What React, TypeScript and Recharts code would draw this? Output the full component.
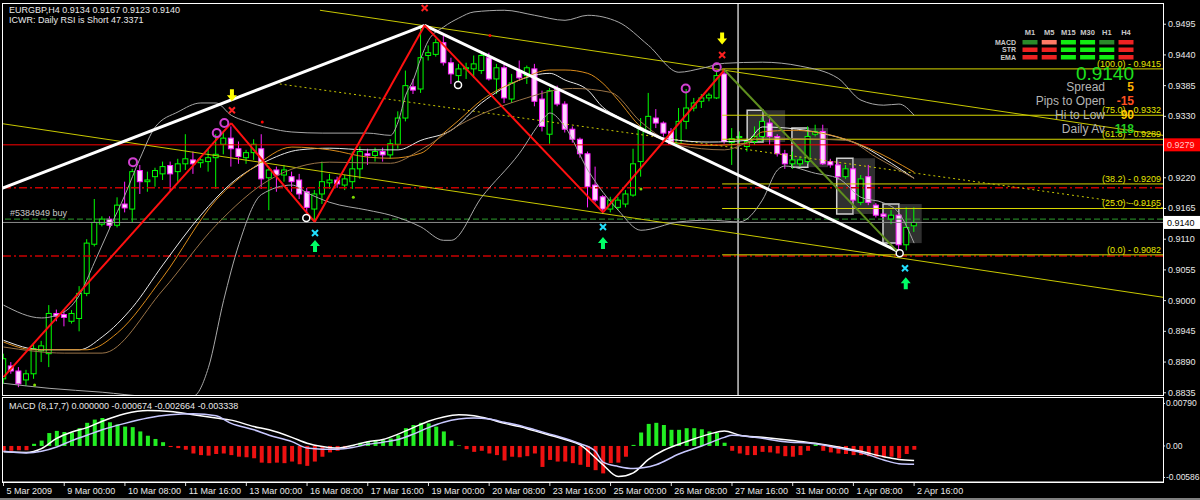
import React from "react";
import {
  ComposedChart,
  Bar,
  Line,
  XAxis,
  YAxis,
  ReferenceLine,
  ReferenceArea,
  ReferenceDot,
  Cell,
} from "recharts";

const FONT = '"Liberation Sans", Arial, sans-serif';

// time axis: one label every 8 H4 bars
const dateLabels = [
  "5 Mar 2009", "9 Mar 00:00", "10 Mar 08:00", "11 Mar 16:00", "13 Mar 00:00", "16 Mar 08:00",
  "17 Mar 16:00", "19 Mar 00:00", "20 Mar 08:00", "23 Mar 16:00", "25 Mar 00:00", "26 Mar 08:00",
  "27 Mar 16:00", "31 Mar 00:00", "1 Apr 08:00", "2 Apr 16:00",
];
const dateTicks = dateLabels.map((_, k) => k * 8);

const priceTicks = [0.8835, 0.889, 0.8945, 0.9, 0.9055, 0.911, 0.9165, 0.922, 0.933, 0.9385, 0.944, 0.9495];
const macdTicks = [-0.00586, 0, 0.0079];
const macdTickText = ["-0.00586", "0.00", "0.00790"];

// EURGBP H4 candles, 5 Mar 16:00 .. 2 Apr 16:00
const open = [
  0.8860, 0.8883, 0.8874, 0.8858, 0.8869, 0.8910, 0.8905, 0.8977, 0.8975, 0.8963,
  0.8968, 0.9013, 0.9101, 0.9137, 0.9146, 0.9135, 0.9173, 0.9164, 0.9233, 0.9213,
  0.9222, 0.9227, 0.9242, 0.9231, 0.9245, 0.9252, 0.9247, 0.9249, 0.9256, 0.9280,
  0.9291, 0.9272, 0.9256, 0.9265, 0.9272, 0.9220, 0.9234, 0.9225, 0.9222, 0.9216,
  0.9195, 0.9164, 0.9191, 0.9211, 0.9216, 0.9207, 0.9213, 0.9236, 0.9263, 0.9260,
  0.9267, 0.9261, 0.9280, 0.9327, 0.9383, 0.9379, 0.9439, 0.9441, 0.9462, 0.9426,
  0.9403, 0.9415, 0.9415, 0.9412, 0.9435, 0.9397, 0.9417, 0.9361, 0.9412, 0.9403,
  0.9415, 0.9361, 0.9298, 0.9379, 0.9352, 0.9307, 0.9289, 0.9263, 0.9207, 0.9186,
  0.9164, 0.9167, 0.9173, 0.9189, 0.9249, 0.9303, 0.9327, 0.9318, 0.9303, 0.9281,
  0.9321, 0.9345, 0.9357, 0.9363, 0.9363, 0.9406, 0.9283, 0.9292, 0.9276, 0.9285,
  0.9294, 0.9318, 0.9294, 0.9263, 0.9245, 0.9245, 0.9249, 0.9298, 0.9303, 0.9249,
  0.9243, 0.9222, 0.9236, 0.9176, 0.9222, 0.9171, 0.9155, 0.9146, 0.9153, 0.9100,
  0.9134,
];
const high = [
  0.8905, 0.8890, 0.8881, 0.8876, 0.8923, 0.8928, 0.8992, 0.8984, 0.8983, 0.8983,
  0.9026, 0.9110, 0.9182, 0.9151, 0.9151, 0.9185, 0.9213, 0.9236, 0.9243, 0.9231,
  0.9238, 0.9249, 0.9249, 0.9254, 0.9298, 0.9267, 0.9258, 0.9272, 0.9298, 0.9303,
  0.9312, 0.9285, 0.9270, 0.9289, 0.9298, 0.9240, 0.9240, 0.9243, 0.9231, 0.9227,
  0.9202, 0.9198, 0.9249, 0.9227, 0.9222, 0.9225, 0.9267, 0.9276, 0.9272, 0.9274,
  0.9274, 0.9289, 0.9339, 0.9412, 0.9397, 0.9493, 0.9457, 0.9469, 0.9475, 0.9435,
  0.9424, 0.9426, 0.9439, 0.9444, 0.9444, 0.9424, 0.9426, 0.9406, 0.9430, 0.9421,
  0.9424, 0.9376, 0.9381, 0.9385, 0.9357, 0.9312, 0.9292, 0.9267, 0.9240, 0.9189,
  0.9186, 0.9186, 0.9198, 0.9272, 0.9327, 0.9372, 0.9343, 0.9321, 0.9309, 0.9345,
  0.9379, 0.9363, 0.9370, 0.9372, 0.9412, 0.9415, 0.9309, 0.9303, 0.9290, 0.9312,
  0.9328, 0.9328, 0.9298, 0.9270, 0.9267, 0.9258, 0.9312, 0.9315, 0.9315, 0.9254,
  0.9249, 0.9243, 0.9240, 0.9225, 0.9243, 0.9175, 0.9158, 0.9162, 0.9155, 0.9167,
  0.9167,
];
const low = [
  0.8851, 0.8869, 0.8845, 0.8847, 0.8860, 0.8890, 0.8881, 0.8963, 0.8954, 0.8959,
  0.8945, 0.9008, 0.9097, 0.9133, 0.9129, 0.9131, 0.9158, 0.9140, 0.9191, 0.9195,
  0.9204, 0.9216, 0.9195, 0.9213, 0.9234, 0.9227, 0.9238, 0.9231, 0.9200, 0.9262,
  0.9240, 0.9245, 0.9245, 0.9252, 0.9200, 0.9162, 0.9195, 0.9213, 0.9195, 0.9182,
  0.9158, 0.9142, 0.9173, 0.9200, 0.9202, 0.9198, 0.9200, 0.9218, 0.9243, 0.9249,
  0.9249, 0.9254, 0.9272, 0.9321, 0.9370, 0.9372, 0.9430, 0.9437, 0.9421, 0.9388,
  0.9388, 0.9397, 0.9399, 0.9406, 0.9394, 0.9370, 0.9354, 0.9354, 0.9394, 0.9388,
  0.9348, 0.9303, 0.9281, 0.9348, 0.9301, 0.9283, 0.9256, 0.9167, 0.9176, 0.9155,
  0.9158, 0.9162, 0.9167, 0.9186, 0.9222, 0.9298, 0.9309, 0.9294, 0.9279, 0.9279,
  0.9307, 0.9339, 0.9345, 0.9357, 0.9361, 0.9281, 0.9243, 0.9276, 0.9267, 0.9279,
  0.9285, 0.9279, 0.9258, 0.9236, 0.9236, 0.9240, 0.9245, 0.9294, 0.9243, 0.9238,
  0.9216, 0.9218, 0.9176, 0.9171, 0.9171, 0.9149, 0.9147, 0.9137, 0.9082, 0.9090,
  0.9123,
];
const close = [
  0.8896, 0.8874, 0.8851, 0.8869, 0.8914, 0.8919, 0.8977, 0.8972, 0.8970, 0.8977,
  0.9013, 0.9103, 0.9140, 0.9146, 0.9135, 0.9171, 0.9166, 0.9231, 0.9213, 0.9216,
  0.9233, 0.9240, 0.9227, 0.9245, 0.9254, 0.9245, 0.9252, 0.9256, 0.9262, 0.9291,
  0.9272, 0.9258, 0.9265, 0.9280, 0.9218, 0.9234, 0.9225, 0.9234, 0.9213, 0.9191,
  0.9167, 0.9191, 0.9213, 0.9216, 0.9209, 0.9218, 0.9236, 0.9267, 0.9260, 0.9267,
  0.9261, 0.9281, 0.9327, 0.9385, 0.9377, 0.9435, 0.9444, 0.9462, 0.9426, 0.9406,
  0.9415, 0.9417, 0.9424, 0.9439, 0.9397, 0.9417, 0.9363, 0.9390, 0.9399, 0.9417,
  0.9357, 0.9312, 0.9376, 0.9352, 0.9307, 0.9289, 0.9263, 0.9204, 0.9180, 0.9164,
  0.9180, 0.9180, 0.9191, 0.9245, 0.9309, 0.9330, 0.9318, 0.9300, 0.9281, 0.9321,
  0.9345, 0.9354, 0.9363, 0.9368, 0.9403, 0.9285, 0.9290, 0.9294, 0.9285, 0.9294,
  0.9321, 0.9294, 0.9263, 0.9245, 0.9252, 0.9252, 0.9294, 0.9303, 0.9245, 0.9243,
  0.9222, 0.9236, 0.9180, 0.9218, 0.9176, 0.9153, 0.9151, 0.9153, 0.9100, 0.9131,
  0.9140,
];

// MACD (8,17,7) histogram
const macdHist = [
  -0.0009, -0.0009, -0.0008, -0.0008, 0.0004, 0.0010, 0.0024, 0.0028, 0.0026, 0.0025,
  0.0033, 0.0043, 0.0049, 0.0052, 0.0044, 0.0040, 0.0036, 0.0035, 0.0027, 0.0019,
  0.0013, 0.0007, -0.0002, -0.0004, -0.0007, -0.0014, -0.0017, -0.0018, -0.0015, -0.0014,
  -0.0017, -0.0020, -0.0021, -0.0023, -0.0031, -0.0032, -0.0031, -0.0032, -0.0029, -0.0034,
  -0.0037, -0.0029, -0.0020, -0.0012, -0.0009, -0.0004, 0.0002, 0.0006, 0.0008, 0.0010,
  0.0011, 0.0014, 0.0020, 0.0033, 0.0039, 0.0043, 0.0042, 0.0036, 0.0027, 0.0010,
  0.0001, -0.0006, -0.0011, -0.0009, -0.0014, -0.0017, -0.0027, -0.0020, -0.0021, -0.0019,
  -0.0014, -0.0039, -0.0026, -0.0029, -0.0029, -0.0032, -0.0035, -0.0039, -0.0045, -0.0051,
  -0.0032, -0.0031, -0.0020, 0.0002, 0.0025, 0.0041, 0.0043, 0.0039, 0.0030, 0.0030,
  0.0033, 0.0033, 0.0031, 0.0027, 0.0024, 0.0006, -0.0009, -0.0014, -0.0017, -0.0017,
  -0.0011, -0.0012, -0.0014, -0.0019, -0.0020, -0.0017, -0.0009, 0.0003, -0.0009, -0.0012,
  -0.0014, -0.0015, -0.0017, -0.0017, -0.0019, -0.0020, -0.0021, -0.0020, -0.0023, -0.0015,
  -0.0007,
];

type Pt = [number, number];

// MACD lines, read at a few bars
const macdFast: Pt[] = [
  [0, -0.0011], [3, -0.0012], [5, -0.0005], [7, 0.0014], [9, 0.0026], [11, 0.0034], [13, 0.0046],
  [16, 0.006], [19, 0.0066], [22, 0.0064], [25, 0.0058], [28, 0.0052], [30, 0.0048], [33, 0.0036],
  [35, 0.003], [38, 0.0016], [40, 0.0005], [42, -0.0001], [44, -0.0004], [46, 0.0001], [48, 0.0008],
  [50, 0.0012], [52, 0.0022], [54, 0.0034], [56, 0.0046], [58, 0.0054], [60, 0.0058], [62, 0.0056],
  [64, 0.005], [66, 0.0042], [68, 0.0036], [70, 0.0028], [72, 0.002], [74, 0.0012], [76, 0.0002],
  [78, -0.0022], [79, -0.0035], [81, -0.0057], [83, -0.005], [85, -0.0025], [87, -0.0008],
  [90, 0.0008], [93, 0.0022], [95, 0.0028], [97, 0.002], [100, 0.0016], [104, 0.001], [107, 0.0005],
  [110, -0.0002], [113, -0.001], [116, -0.002], [118, -0.0025], [120, -0.0027],
];
const macdSlow: Pt[] = [
  [0, -0.001], [3, -0.0013], [5, -0.001], [7, -0.0002], [9, 0.001], [11, 0.002], [13, 0.003],
  [16, 0.0042], [19, 0.0052], [22, 0.0058], [25, 0.006], [28, 0.0056], [30, 0.0042], [33, 0.003],
  [35, 0.002], [38, 0.0008], [40, -0.0004], [42, -0.0006], [44, -0.0006], [46, -0.0003], [48, 0.0003],
  [50, 0.0007], [52, 0.0012], [54, 0.0022], [56, 0.0034], [58, 0.0044], [60, 0.005], [62, 0.0052],
  [64, 0.005], [66, 0.0044], [68, 0.0038], [70, 0.003], [72, 0.0022], [74, 0.0014], [76, 0.0004],
  [78, -0.001], [79, -0.003], [81, -0.0038], [83, -0.0042], [86, -0.0035], [89, -0.0015],
  [92, 0], [95, 0.0016], [96, 0.002], [99, 0.0016], [103, 0.0008], [107, 0.0004], [110, -0.0004],
  [113, -0.0012], [116, -0.0026], [118, -0.0033], [120, -0.0034],
];

// Bollinger bands and moving averages, read at a few bars
const bbUpper: Pt[] = [
  [0, 0.8992], [5, 0.8969], [8, 0.898], [10, 0.901], [12, 0.9069], [14, 0.913], [16, 0.9189],
  [18, 0.9255], [20, 0.9311], [23, 0.9338], [26, 0.9354], [28, 0.9354], [30, 0.9332], [32, 0.9321],
  [35, 0.9309], [38, 0.9302], [42, 0.93], [48, 0.93], [51, 0.9296], [52, 0.932], [53, 0.9368],
  [54, 0.9395], [55, 0.9434], [56, 0.9466], [58, 0.949], [60, 0.9506], [62, 0.9517], [66, 0.952],
  [70, 0.9511], [74, 0.9502], [77, 0.9511], [81, 0.9499], [85, 0.9457], [89, 0.9409], [92, 0.9416],
  [95, 0.9425], [100, 0.9427], [105, 0.942], [110, 0.9398], [113, 0.9359], [116, 0.935], [118, 0.9352],
  [120, 0.9332],
];
const bbLower: Pt[] = [
  [0, 0.8852], [6, 0.8843], [13, 0.8836], [19, 0.8829], [25, 0.8829], [27, 0.888], [29, 0.9],
  [31, 0.91], [34, 0.919], [38, 0.9207], [40, 0.9193], [43, 0.9176], [48, 0.9162], [51, 0.9153],
  [55, 0.9132], [58, 0.9108], [59, 0.9108], [63, 0.9185], [68, 0.9264], [71, 0.9323], [72, 0.9336],
  [74, 0.9311], [77, 0.9234], [81, 0.9162], [84, 0.9126], [89, 0.9141], [93, 0.9144], [97, 0.9141],
  [100, 0.918], [102, 0.9234], [103, 0.9241], [107, 0.9228], [110, 0.9219], [113, 0.9185],
  [116, 0.9175], [118, 0.9157], [120, 0.9103],
];
const bbMid: Pt[] = [
  [0, 0.8929], [5, 0.8912], [10, 0.8912], [13, 0.8935], [17, 0.8988], [21, 0.9064], [26, 0.9153],
  [30, 0.921], [35, 0.9252], [39, 0.927], [43, 0.9273], [48, 0.927], [52, 0.927], [55, 0.9287],
  [59, 0.9305], [63, 0.9354], [68, 0.9395], [72, 0.9407], [74, 0.9395], [77, 0.9377], [79, 0.9346],
  [81, 0.9329], [84, 0.9305], [89, 0.9287], [93, 0.9284], [98, 0.9287], [100, 0.9311], [109, 0.9296],
  [113, 0.9278], [117, 0.9246], [120, 0.9219],
];
const emaOrange: Pt[] = [
  [0, 0.8926], [4, 0.8912], [11, 0.8912], [15, 0.8942], [21, 0.9042], [28, 0.918], [33, 0.9239],
  [38, 0.9275], [43, 0.927], [48, 0.9257], [51, 0.9255], [55, 0.9264], [58, 0.93], [60, 0.9323],
  [63, 0.9359], [68, 0.9395], [72, 0.9413], [74, 0.9413], [77, 0.9407], [79, 0.9389], [81, 0.9359],
  [84, 0.9311], [89, 0.9282], [93, 0.9278], [98, 0.9282], [100, 0.9302], [104, 0.9305],
  [110, 0.9293], [114, 0.9273], [120, 0.923],
];
const smaTan: Pt[] = [
  [0, 0.8917], [8, 0.8906], [13, 0.8906], [21, 0.9019], [28, 0.9135], [35, 0.9216], [43, 0.9248],
  [51, 0.9246], [55, 0.927], [60, 0.9314], [68, 0.9359], [75, 0.938], [80, 0.9373], [84, 0.932],
  [89, 0.9278], [95, 0.927], [100, 0.9291], [111, 0.9287], [115, 0.9257], [120, 0.9219],
];

// zigzag, trend and channel lines: [bar, price] vertices
const zigzag: Pt[] = [[0, 0.8863], [30, 0.9318], [41, 0.9141], [55.5, 0.9493], [79, 0.9158], [95, 0.9413]];
const lastLeg: Pt[] = [[95, 0.9413], [118, 0.9085]];
const trendLine: Pt[] = [[-0.2, 0.9201], [55.5, 0.9493], [118.1, 0.9087]];
const chanUpper: Pt[] = [[41.7, 0.952], [152.8, 0.9296]];
const chanLower: Pt[] = [[-0.2, 0.9317], [152.8, 0.9006]];
const chanDotted: Pt[] = [[36.4, 0.9388], [152.8, 0.9166]];

// fibonacci retracement
const fibStart = 94.7;
const fibPct = ["100.0", "75.0", "61.8", "38.2", "25.0", "0.0"];
const fibPrice = [0.9415, 0.9332, 0.9289, 0.9209, 0.9165, 0.9082];

// horizontal levels
const bidPrice = 0.914;
const redLevel = 0.9279;
const orderPrice = 0.9146;
const stopLevels = [0.9202, 0.908];
const cursorBar = 96.8;

// inside-bar boxes
const boxFrom = [98, 103.9, 109.8, 115.9];
const boxSplit = [100.1, 106, 111.95, 118];
const boxTo = [103, 108.65, 114.85, 121];
const boxHi = [0.9341, 0.9309, 0.9255, 0.9173];
const boxLo = [0.9284, 0.9239, 0.9155, 0.9103];

// signal markers
const arrowsDown: Pt[] = [[30.1, 0.9364], [94.7, 0.9466]];
const redCross: Pt[] = [[30.1, 0.9341], [55.5, 0.9524], [94.7, 0.944]];
const cyanCross: Pt[] = [[41.05, 0.9121], [79, 0.9132], [118.8, 0.9058]];
const arrowsUp: Pt[] = [[41.05, 0.9098], [79, 0.9103], [118.9, 0.9031]];
const pinkRings: Pt[] = [[17.06, 0.9248], [28.1, 0.93], [29.1, 0.9318], [89.9, 0.938], [94, 0.9418]];
const whiteRings: Pt[] = [[39.9, 0.9148], [59.9, 0.9386], [118.1, 0.9085]];
const redDots: Pt[] = [[34.1, 0.932], [64.1, 0.9475]];
const greenDots: Pt[] = [[46.1, 0.9185], [84, 0.92], [4.1, 0.8849]];

// top-right panel
const tfCols = ["M1", "M5", "M15", "M30", "H1", "H4"];
const tfRows = ["MACD", "STR", "EMA"];
const tfColors = [
  ["#2a8a2a", "#ff7a66", "#11ee11", "#11ee11", "#2a8a2a", "#ee2222"],
  ["#ee2222", "#ee2222", "#11ee11", "#11ee11", "#11ee11", "#ee2222"],
  ["#ee2222", "#ee2222", "#11ee11", "#11ee11", "#11ee11", "#ee2222"],
];
const infoLabels = ["Spread", "Pips to Open", "Hi to Low", "Daily Av"];
const infoValues = ["5", "-15", "90", "118"];
const infoColors = ["#ffb400", "#ff5020", "#ffcc00", "#22cc22"];

const N = 153;
const rows: any[] = Array.from({ length: N }, (_, i) => ({
  i,
  o: open[i],
  h: high[i],
  l: low[i],
  c: close[i],
  hist: macdHist[i],
}));
const put = (key: string, pts: Pt[]) => pts.forEach(([i, v]) => (rows[i][key] = v));
put("bbU", bbUpper);
put("bbL", bbLower);
put("bbM", bbMid);
put("ema", emaOrange);
put("sma", smaTan);
put("mF", macdFast);
put("mS", macdSlow);

const Candle = (props: any) => {
  const { x, y, width, height, payload } = props;
  if (!payload || payload.o == null) return null;
  const top = Math.min(y, y + height);
  const bot = Math.max(y, y + height);
  const span = payload.h - payload.l;
  const toY = (p: number) => (span > 0 ? top + ((payload.h - p) / span) * (bot - top) : top);
  const cx = x + width / 2;
  const up = payload.c >= payload.o;
  const bTop = toY(Math.max(payload.o, payload.c));
  const bBot = toY(Math.min(payload.o, payload.c));
  const col = up ? "#00ff00" : "#ff22ff";
  return (
    <g>
      <line x1={cx} x2={cx} y1={top} y2={bot} stroke={col} strokeWidth={1} />
      <rect x={cx - 2.5} y={bTop} width={5} height={Math.max(1, bBot - bTop)} fill={up ? "#000" : "#ffd6ff"} stroke={col} strokeWidth={1} />
    </g>
  );
};

const PriceTick = (p: any) => (
  <g>
    <line x1={p.x} x2={p.x + 3} y1={p.y} y2={p.y} stroke="#ddd" />
    <text x={p.x + 5} y={p.y + 3} fill="#e8e8e8" fontSize={9} fontFamily={FONT}>
      {Number(p.payload.value).toFixed(4)}
    </text>
  </g>
);

const MacdTick = (p: any) => (
  <g>
    <line x1={p.x} x2={p.x + 2} y1={p.y} y2={p.y} stroke="#ddd" />
    <text x={p.x + 3} y={p.y + 3} fill="#e8e8e8" fontSize={8.5} fontFamily={FONT}>
      {macdTickText[macdTicks.indexOf(p.payload.value)]}
    </text>
  </g>
);

const DateTick = (p: any) => (
  <g>
    <line x1={p.x} x2={p.x} y1={p.y} y2={p.y + 4} stroke="#ddd" />
    <text x={p.x + 3} y={p.y + 12} fill="#e8e8e8" fontSize={9} fontFamily={FONT}>
      {dateLabels[dateTicks.indexOf(p.payload.value)]}
    </text>
  </g>
);

const AxisBox = ({ cx, cy, text, bg, fg }: any) => (
  <g>
    <rect x={cx} y={cy - 6.5} width={37} height={13} fill={bg} />
    <text x={cx + 4} y={cy + 3.5} fill={fg} fontSize={9} fontFamily={FONT}>{text}</text>
  </g>
);

const segs = (pts: Pt[]) =>
  pts.slice(1).map((p, k) => [{ x: pts[k][0], y: pts[k][1] }, { x: p[0], y: p[1] }]);

const ArrowDown = ({ cx, cy }: any) => (
  <path d={`M${cx - 2},${cy - 8} h4 v6 h3 l-5,6 l-5,-6 h3 z`} fill="#ffff00" />
);
const ArrowUp = ({ cx, cy }: any) => (
  <path d={`M${cx},${cy - 6} l5,6 h-3 v6 h-4 v-6 h-3 z`} fill="#00ff66" />
);
const Cross = ({ cx, cy, color }: any) => (
  <path d={`M${cx - 3},${cy - 3} L${cx + 3},${cy + 3} M${cx + 3},${cy - 3} L${cx - 3},${cy + 3}`} stroke={color} strokeWidth={2} />
);

export default function App() {
  const mainMargin = { top: 3, right: 0, bottom: 5, left: 2 };
  return (
    <div style={{ position: "absolute", left: 0, top: 0, width: 1200, height: 500, background: "#000", overflow: "hidden", fontFamily: FONT }}>
      <div style={{ position: "absolute", left: 0, top: 0 }}>
        <ComposedChart width={1200} height={400} data={rows} margin={mainMargin}>
          <XAxis type="number" dataKey="i" domain={[-0.2, 152.8]} hide allowDataOverflow />
          <YAxis
            orientation="right"
            width={37}
            domain={[0.8831, 0.9533]}
            ticks={priceTicks}
            interval={0}
            allowDataOverflow
            axisLine={false}
            tickLine={false}
            tickSize={0}
            tickMargin={0}
            tick={<PriceTick />}
          />
          {boxFrom.map((b, k) => (
            <ReferenceArea key={"bo" + k} x1={b} x2={boxSplit[k]} y1={boxLo[k]} y2={boxHi[k]} fill="#8a8a8a" fillOpacity={0.35} stroke="#d0d0d0" strokeWidth={1.5} ifOverflow="hidden" />
          ))}
          {boxFrom.map((b, k) => (
            <ReferenceArea key={"bg" + k} x1={boxSplit[k]} x2={boxTo[k]} y1={boxLo[k]} y2={boxHi[k]} fill="#6a6a6a" fillOpacity={0.45} ifOverflow="hidden" />
          ))}
          <ReferenceLine x={cursorBar} stroke="#c8c8c8" strokeWidth={1.5} />
          <ReferenceLine y={redLevel} stroke="#ff0000" strokeWidth={1} />
          <ReferenceLine y={bidPrice} stroke="#8c8c8c" strokeWidth={1} />
          <ReferenceLine y={orderPrice} stroke="#2e9e2e" strokeDasharray="6 3" />
          {stopLevels.map((s) => (
            <ReferenceLine key={s} y={s} stroke="#c80000" strokeWidth={1.5} strokeDasharray="8 3 2 3" />
          ))}
          {fibPrice.map((f) => (
            <ReferenceLine key={"f" + f} segment={[{ x: fibStart, y: f }, { x: 152.8, y: f }]} stroke="#d8d800" ifOverflow="hidden" />
          ))}
          {[chanUpper, chanLower].map((c, k) => (
            <ReferenceLine key={"ch" + k} segment={segs(c)[0]} stroke="#c8c800" ifOverflow="hidden" />
          ))}
          <ReferenceLine segment={segs(chanDotted)[0]} stroke="#c8c800" strokeDasharray="2 3" ifOverflow="hidden" />

          <Line dataKey="bbU" stroke="#a8a8a8" dot={false} connectNulls type="monotone" strokeWidth={1} isAnimationActive={false} />
          <Line dataKey="bbL" stroke="#a8a8a8" dot={false} connectNulls type="monotone" strokeWidth={1} isAnimationActive={false} />
          <Line dataKey="bbM" stroke="#e8e8e8" dot={false} connectNulls type="monotone" strokeWidth={1} isAnimationActive={false} />
          <Line dataKey="ema" stroke="#d98a1a" dot={false} connectNulls type="monotone" strokeWidth={1} isAnimationActive={false} />
          <Line dataKey="sma" stroke="#9a7448" dot={false} connectNulls type="monotone" strokeWidth={1} isAnimationActive={false} />

          <Bar dataKey={(d: any) => (d.h == null ? null : [d.l, d.h])} barSize={5} shape={<Candle />} isAnimationActive={false} />

          {segs(trendLine).map((s, k) => (
            <ReferenceLine key={"t" + k} segment={s} stroke="#ffffff" strokeWidth={3} ifOverflow="hidden" />
          ))}
          {segs(zigzag).map((s, k) => (
            <ReferenceLine key={"z" + k} segment={s} stroke="#ff1010" strokeWidth={2} ifOverflow="hidden" />
          ))}
          <ReferenceLine segment={segs(lastLeg)[0]} stroke="#5f8f1f" strokeWidth={2} ifOverflow="hidden" />

          {fibPrice.map((f, k) => (
            <ReferenceDot key={"fl" + k} x={152.8} y={f} r={0} ifOverflow="visible"
              shape={(p: any) => (
                <text x={p.cx - 2} y={p.cy - 2} textAnchor="end" fill="#e6e600" fontSize={9} fontFamily={FONT}>
                  {`(${fibPct[k]}) - ${f.toFixed(4)}`}
                </text>
              )}
            />
          ))}
          {arrowsDown.map((m, k) => (
            <ReferenceDot key={"ad" + k} x={m[0]} y={m[1]} r={0} ifOverflow="visible" shape={(p: any) => <ArrowDown cx={p.cx} cy={p.cy} />} />
          ))}
          {arrowsUp.map((m, k) => (
            <ReferenceDot key={"au" + k} x={m[0]} y={m[1]} r={0} ifOverflow="visible" shape={(p: any) => <ArrowUp cx={p.cx} cy={p.cy} />} />
          ))}
          {redCross.map((m, k) => (
            <ReferenceDot key={"rc" + k} x={m[0]} y={m[1]} r={0} ifOverflow="visible" shape={(p: any) => <Cross cx={p.cx} cy={p.cy} color="#ff2020" />} />
          ))}
          {cyanCross.map((m, k) => (
            <ReferenceDot key={"cc" + k} x={m[0]} y={m[1]} r={0} ifOverflow="visible" shape={(p: any) => <Cross cx={p.cx} cy={p.cy} color="#22e0ff" />} />
          ))}
          {pinkRings.map((m, k) => (
            <ReferenceDot key={"pr" + k} x={m[0]} y={m[1]} r={4} fill="none" stroke="#d040d0" strokeWidth={2} ifOverflow="visible" />
          ))}
          {whiteRings.map((m, k) => (
            <ReferenceDot key={"wr" + k} x={m[0]} y={m[1]} r={3.5} fill="#000" stroke="#ffffff" strokeWidth={1.5} ifOverflow="visible" />
          ))}
          {redDots.map((m, k) => (
            <ReferenceDot key={"rd" + k} x={m[0]} y={m[1]} r={1.5} fill="#ff0000" stroke="none" ifOverflow="visible" />
          ))}
          {greenDots.map((m, k) => (
            <ReferenceDot key={"gd" + k} x={m[0]} y={m[1]} r={1.5} fill="#7fdc00" stroke="none" ifOverflow="visible" />
          ))}
          <ReferenceDot x={152.8} y={redLevel} r={0} ifOverflow="visible"
            shape={(p: any) => <AxisBox cx={p.cx} cy={p.cy} text={redLevel.toFixed(4)} bg="#ff0000" fg="#ffc8c8" />} />
          <ReferenceDot x={152.8} y={bidPrice} r={0} ifOverflow="visible"
            shape={(p: any) => <AxisBox cx={p.cx} cy={p.cy} text={bidPrice.toFixed(4)} bg="#ffffff" fg="#000000" />} />
        </ComposedChart>
      </div>

      <div style={{ position: "absolute", left: 0, top: 395 }}>
        <ComposedChart width={1200} height={105} data={rows} margin={{ top: 2, right: 0, bottom: 0, left: 2 }}>
          <XAxis
            type="number"
            dataKey="i"
            domain={[-0.2, 152.8]}
            ticks={dateTicks}
            interval={0}
            height={18}
            allowDataOverflow
            stroke="#ffffff"
            tickLine={false}
            tickSize={0}
            tickMargin={0}
            tick={<DateTick />}
          />
          <YAxis
            orientation="right"
            width={37}
            domain={[-0.0067, 0.0091]}
            ticks={macdTicks}
            interval={0}
            allowDataOverflow
            axisLine={false}
            tickLine={false}
            tickSize={0}
            tickMargin={0}
            tick={<MacdTick />}
          />
          <Bar dataKey="hist" barSize={4} isAnimationActive={false}>
            {rows.map((r, k) => (
              <Cell key={k} fill={(r.hist ?? 0) >= 0 ? "#22ee22" : "#ee1111"} />
            ))}
          </Bar>
          <Line dataKey="mF" stroke="#ffffff" dot={false} connectNulls type="monotone" strokeWidth={1.5} isAnimationActive={false} />
          <Line dataKey="mS" stroke="#c8c8ff" dot={false} connectNulls type="monotone" strokeWidth={1.5} isAnimationActive={false} />
        </ComposedChart>
      </div>

      <div style={{ position: "absolute", left: 2, top: 3, width: 1162, height: 393, border: "1px solid #fff", boxSizing: "border-box", pointerEvents: "none" }} />
      <div style={{ position: "absolute", left: 2, top: 397, width: 1162, height: 86, border: "1px solid #fff", boxSizing: "border-box", pointerEvents: "none" }} />
      <div style={{ position: "absolute", left: 0, top: 498, width: 1200, height: 2, background: "#808080" }} />

      <svg width={1200} height={500} style={{ position: "absolute", left: 0, top: 0, pointerEvents: "none" }}>
        <g fontFamily={FONT} fontSize={9} fill="#e8e8e8">
          <text x={9} y={13}>EURGBP,H4  0.9134 0.9167 0.9123 0.9140</text>
          <text x={9} y={23}>ICWR: Daily RSI is Short 47.3371</text>
          <text x={10} y={216} fill="#c8c8c8">#5384949 buy</text>
          <text x={9} y={409}>MACD (8,17,7) 0.000000 -0.000674 -0.002664 -0.003338</text>
        </g>
        <g fontFamily={FONT} fontWeight="bold" fontSize={7.5} fill="#c8c8c8">
          {tfCols.map((c, k) => (
            <text key={c} x={1030 + 19.2 * k} y={35} textAnchor="middle">{c}</text>
          ))}
          {tfRows.map((r, j) => (
            <text key={r} x={1016} y={44.5 + 7.5 * j} textAnchor="end" fontSize={7}>{r}</text>
          ))}
        </g>
        {tfColors.map((row, j) =>
          row.map((col, k) => (
            <rect key={j + "-" + k} x={1030 + 19.2 * k - 7.5} y={40 + 7.5 * j} width={15} height={4.5} fill={col} />
          ))
        )}
        <text x={1134} y={80} textAnchor="end" fill="#1ee01e" fontSize={19} fontFamily={FONT}>0.9140</text>
        {infoLabels.map((t, k) => (
          <g key={t}>
            <text x={1105} y={91 + 14 * k} textAnchor="end" fill="#b4b4b4" fontSize={12} fontFamily={FONT}>{t}</text>
            <text x={1134} y={91 + 14 * k} textAnchor="end" fill={infoColors[k]} fontSize={12} fontWeight="bold" fontFamily={FONT}>{infoValues[k]}</text>
          </g>
        ))}
      </svg>
    </div>
  );
}
